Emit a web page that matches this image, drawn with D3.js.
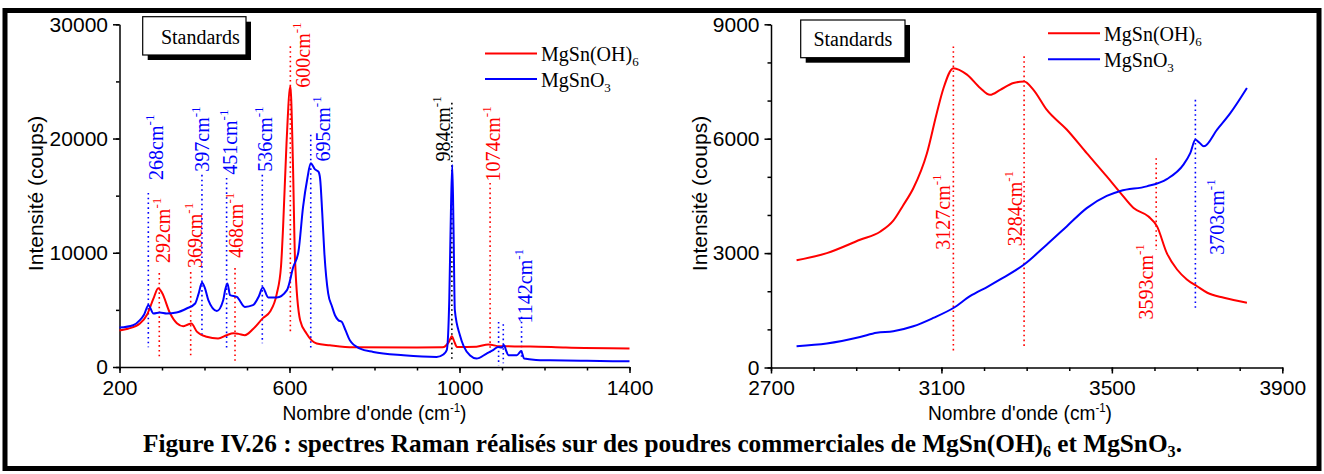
<!DOCTYPE html>
<html>
<head>
<meta charset="utf-8">
<script src="https://cdn.jsdelivr.net/npm/d3@7"></script>
<style>body{margin:0;background:#fff}</style>
</head>
<body>
<script>
// Spectre basse fréquence (200-1400 cm-1), MgSn(OH)6
var lowHydWave = [200,220,248,265,280,291,300,319,335,350,360,369,382,405,432,452,468,480,495,515,538,554,570,580,585,593,602,608,613,625,640,664,695,750,900,960,975,982,988,994,1040,1068,1095,1166,1250,1400];
var lowHydCounts = [3200,3350,3800,4600,6000,6900,6500,4700,3830,3570,3700,3800,3100,2650,2500,2780,2950,2900,2780,3350,4300,4830,6400,8800,12300,19600,24600,18000,9400,4100,2930,2050,1900,1720,1700,1720,2200,2700,2200,1750,1780,1980,1810,1800,1700,1620];
// MgSnO3
var lowOxyWave = [200,232,248,258,268,280,295,311,334,358,378,386,394,401,409,429,444,449,454,460,476,495,514,528,537,550,570,594,609,621,632,642,650,660,668,672,677,682,691,700,707,715,723,732,742,766,797,868,946,962,970,976,980,983,986,989,1001,1010,1025,1040,1064,1080,1091,1099,1105,1110,1115,1135,1142,1145,1152,1180,1213,1300,1400];
var lowOxyCounts = [3450,3660,4100,4600,5410,4680,4770,4680,4770,5120,5560,6400,7370,6900,5850,4910,5850,6800,7320,6290,6140,5260,5410,6200,6960,6090,6090,6730,8770,10090,14040,16500,17840,17300,17100,16500,13500,10000,6440,5300,4530,4100,3950,3200,2340,1610,1320,1030,880,1100,1470,6000,14000,17690,12000,4970,2780,1800,1000,740,1180,1500,1760,1700,1900,1400,1030,1030,1300,1400,740,620,590,540,500];

// Spectre haute fréquence (2700-3900 cm-1)
var highHydWave = [2760,2831,2909,2956,2987,3010,3034,3066,3089,3105,3128,3160,3191,3214,3238,3269,3294,3316,3347,3394,3441,3488,3520,3551,3586,3606,3629,3653,3676,3700,3724,3763,3817];
var highHydCounts = [2810,3000,3350,3560,3850,4250,4700,5620,6670,7330,7850,7680,7330,7150,7280,7460,7500,7280,6760,6240,5620,5010,4580,4180,3960,3700,3000,2570,2310,2130,1960,1830,1700];
var highOxyWave = [2760,2831,2909,2948,2987,3034,3081,3128,3167,3210,3238,3294,3347,3394,3441,3488,3520,3582,3629,3668,3684,3696,3705,3716,3747,3778,3817];
var highOxyCounts = [560,630,800,910,950,1080,1300,1560,1870,2130,2310,2700,3220,3700,4180,4500,4630,4750,4940,5320,5620,5970,5900,5800,6240,6670,7330];

// Pics annotés : position du trait, texte, composé, haut/bas du trait, début du texte, ligne de base du texte
var lowPeakPos   = [267.8,293.6,367.5,394,452,471.8,536,602,650,982,1072,1092,1103,1146];
var lowPeakText  = ['268','292','369','397','451','468','536','600','695','984','1074','','','1142'];
var lowPeakSpec  = ['oxy','hyd','hyd','oxy','oxy','hyd','oxy','hyd','oxy','both','hyd','oxy','oxy','oxy'];
var lowPeakTop   = [15240,8220,8310,16820,16550,8660,16820,28070,20330,23130,16110,3950,3750,4390];
var lowPeakBot   = [1730,760,850,2610,1640,320,2080,3070,1460,590,1200,150,320,880];
var lowLabelFrom = [16380,9100,8660,17100,16820,9540,17100,24450,17980,17980,16230,0,0,3810];
var lowLabelAt   = [302.4,318.8,393.4,410.6,475.8,491.3,558.1,648.2,695.3,977.6,1095.3,0,0,1169.9];

var highPeakPos   = [3128,3294,3604,3696];
var highPeakText  = ['3127','3284','3593','3703'];
var highPeakSpec  = ['hyd','hyd','hyd','oxy'];
var highPeakTop   = [8420,8160,5490,7020];
var highPeakBot   = [390,520,3090,1570];
var highLabelFrom = [3090,3180,1260,2960];
var highLabelAt   = [3120,3289,3597,3762];

var seriesNames = ['MgSn(OH)', 'MgSnO'];
var seriesSubs = ['6', '3'];

var colours = {hyd: '#ff0000', oxy: '#0000ff', both: '#000000'};
var sans = '"Liberation Sans", Arial, sans-serif';
var serif = '"Liberation Serif", "Times New Roman", serif';

function zip(a, b) {
    var out = [];
    for (var i = 0; i < a.length; i++) out.push({w: a[i], c: b[i]});
    return out;
}

function drawPanel(svg, p) {
    var g = svg.append('g');
    var x = d3.scaleLinear().domain(p.xDomain).range(p.xRange);
    var y = d3.scaleLinear().domain(p.yDomain).range(p.yRange);

    // axes principaux + graduations secondaires
    var xAxis = g.append('g').attr('transform', 'translate(0,' + p.yRange[0] + ')')
        .call(d3.axisBottom(x).tickValues(p.xTicks).tickSize(6).tickSizeOuter(0).tickPadding(7).tickFormat(d3.format('d')));
    g.append('g').attr('transform', 'translate(0,' + p.yRange[0] + ')')
        .call(d3.axisBottom(x).tickValues(d3.range(p.xDomain[0], p.xDomain[1] + 1, p.xMinor)).tickSize(3.5).tickSizeOuter(0).tickFormat(''))
        .select('.domain').remove();
    var yAxis = g.append('g').attr('transform', 'translate(' + p.xRange[0] + ',0)')
        .call(d3.axisLeft(y).tickValues(p.yTicks).tickSize(6.5).tickSizeOuter(0).tickPadding(5).tickFormat(d3.format('d')));
    g.append('g').attr('transform', 'translate(' + p.xRange[0] + ',0)')
        .call(d3.axisLeft(y).tickValues(d3.range(p.yDomain[0], p.yDomain[1] + 1, p.yMinor)).tickSize(3.5).tickSizeOuter(0).tickFormat(''))
        .select('.domain').remove();
    g.selectAll('.domain, .tick line').attr('stroke', '#000').attr('stroke-width', 1.5);
    xAxis.selectAll('text').style('font-family', sans).style('font-size', '21px').attr('fill', '#000');
    yAxis.selectAll('text').style('font-family', sans).style('font-size', '21px').attr('fill', '#000');

    // titres des axes
    g.append('text')
        .attr('transform', 'translate(' + p.yTitleX + ',193.5) rotate(-90)')
        .attr('text-anchor', 'middle').style('font-family', sans).style('font-size', '21px')
        .text('Intensité (coups)');
    var xt = g.append('text').attr('x', p.xTitleX - 92).attr('y', 420)
        .attr('textLength', 184).attr('lengthAdjust', 'spacingAndGlyphs')
        .style('font-family', sans).style('font-size', '20px');
    xt.append('tspan').text("Nombre d'onde (cm");
    xt.append('tspan').attr('dy', -8).style('font-size', '12px').text('-1');
    xt.append('tspan').attr('dy', 8).text(')');

    // traits pointillés et étiquettes des pics
    for (var i = 0; i < p.peakPos.length; i++) {
        var col = colours[p.peakSpec[i]];
        g.append('line')
            .attr('x1', x(p.peakPos[i])).attr('x2', x(p.peakPos[i]))
            .attr('y1', y(p.peakTop[i])).attr('y2', y(p.peakBot[i]))
            .attr('stroke', col).attr('stroke-width', 1.6).attr('stroke-dasharray', '1.6,3.2');
        if (p.peakText[i] === '') continue;
        var lab = g.append('text')
            .attr('transform', 'translate(' + x(p.labelAt[i]) + ',' + y(p.labelFrom[i]) + ') rotate(-90)')
            .attr('fill', col).style('font-family', serif).style('font-size', '20px');
        lab.append('tspan').text(p.peakText[i] + 'cm');
        lab.append('tspan').attr('dy', -9).style('font-size', '13px').text('-1');
    }

    // courbes
    var line = d3.line().x(function(d) { return x(d.w); }).y(function(d) { return y(d.c); }).curve(d3.curveMonotoneX);
    g.append('path').attr('d', line(zip(p.hydWave, p.hydCounts)))
        .attr('fill', 'none').attr('stroke', colours.hyd).attr('stroke-width', 2);
    g.append('path').attr('d', line(zip(p.oxyWave, p.oxyCounts)))
        .attr('fill', 'none').attr('stroke', colours.oxy).attr('stroke-width', 2);

    // cadre "Standards" avec ombre
    var b = p.box;
    g.append('rect').attr('x', b[0] + 5).attr('y', b[1] + 5).attr('width', b[2]).attr('height', b[3]).attr('fill', '#000');
    g.append('rect').attr('x', b[0]).attr('y', b[1]).attr('width', b[2]).attr('height', b[3])
        .attr('fill', '#fff').attr('stroke', '#000').attr('stroke-width', 1.2);
    g.append('text').attr('x', b[0] + b[2] / 2 + p.boxTextDx).attr('y', b[1] + b[3] - 11.5)
        .attr('text-anchor', 'middle').style('font-family', serif).style('font-size', '20px')
        .text('Standards');

    // légende
    var keys = ['hyd', 'oxy'];
    for (var k = 0; k < 2; k++) {
        var ly = p.legendY + k * p.legendGap;
        g.append('line').attr('x1', p.legendX).attr('x2', p.legendX + 52).attr('y1', ly).attr('y2', ly)
            .attr('stroke', colours[keys[k]]).attr('stroke-width', 2);
        var lt = g.append('text').attr('x', p.legendX + 56).attr('y', ly + 7.5)
            .style('font-family', serif).style('font-size', '20px');
        lt.append('tspan').text(seriesNames[k]);
        lt.append('tspan').attr('dy', 5).style('font-size', '13px').text(seriesSubs[k]);
    }
}

function drawChart() {
    var svg = d3.select('body').append('svg').attr('width', 1324).attr('height', 474);
    svg.append('rect').attr('width', 1324).attr('height', 474).attr('fill', '#fff');

    drawPanel(svg, {
        xDomain: [200, 1400], xRange: [119.5, 629.5], xTicks: [200, 600, 1000, 1400], xMinor: 100,
        yDomain: [0, 30000], yRange: [367, 24.3], yTicks: [0, 10000, 20000, 30000], yMinor: 5000,
        hydWave: lowHydWave, hydCounts: lowHydCounts, oxyWave: lowOxyWave, oxyCounts: lowOxyCounts,
        peakPos: lowPeakPos, peakText: lowPeakText, peakSpec: lowPeakSpec, peakTop: lowPeakTop,
        peakBot: lowPeakBot, labelFrom: lowLabelFrom, labelAt: lowLabelAt,
        yTitleX: 43.3, xTitleX: 374.5,
        box: [142.7, 16.7, 103.3, 38.3], boxTextDx: 6,
        legendX: 485, legendY: 53.5, legendGap: 25.5
    });
    drawPanel(svg, {
        xDomain: [2700, 3900], xRange: [771, 1282.3], xTicks: [2700, 3100, 3500, 3900], xMinor: 100,
        yDomain: [0, 9000], yRange: [367.5, 24.3], yTicks: [0, 3000, 6000, 9000], yMinor: 1000,
        hydWave: highHydWave, hydCounts: highHydCounts, oxyWave: highOxyWave, oxyCounts: highOxyCounts,
        peakPos: highPeakPos, peakText: highPeakText, peakSpec: highPeakSpec, peakTop: highPeakTop,
        peakBot: highPeakBot, labelFrom: highLabelFrom, labelAt: highLabelAt,
        yTitleX: 706.7, xTitleX: 1020,
        box: [800.7, 20, 104.3, 37.7], boxTextDx: 0,
        legendX: 1048, legendY: 33.3, legendGap: 26
    });

    // légende de la figure
    var cap = svg.append('text').attr('x', 143).attr('y', 452)
        .attr('textLength', 1039).attr('lengthAdjust', 'spacingAndGlyphs')
        .style('font-family', serif).style('font-size', '25px').style('font-weight', 'bold');
    cap.append('tspan').text('Figure IV.26 : spectres Raman réalisés sur des poudres commerciales de MgSn(OH)');
    cap.append('tspan').attr('dy', 5).style('font-size', '16px').text('6');
    cap.append('tspan').attr('dy', -5).text(' et MgSnO');
    cap.append('tspan').attr('dy', 5).style('font-size', '16px').text('3');
    cap.append('tspan').attr('dy', -5).text('.');

    // cadre extérieur
    svg.append('rect').attr('x', 5).attr('y', 10.5).attr('width', 1314).attr('height', 458)
        .attr('fill', 'none').attr('stroke', '#000').attr('stroke-width', 5);
}

drawChart();
</script>
</body>
</html>
